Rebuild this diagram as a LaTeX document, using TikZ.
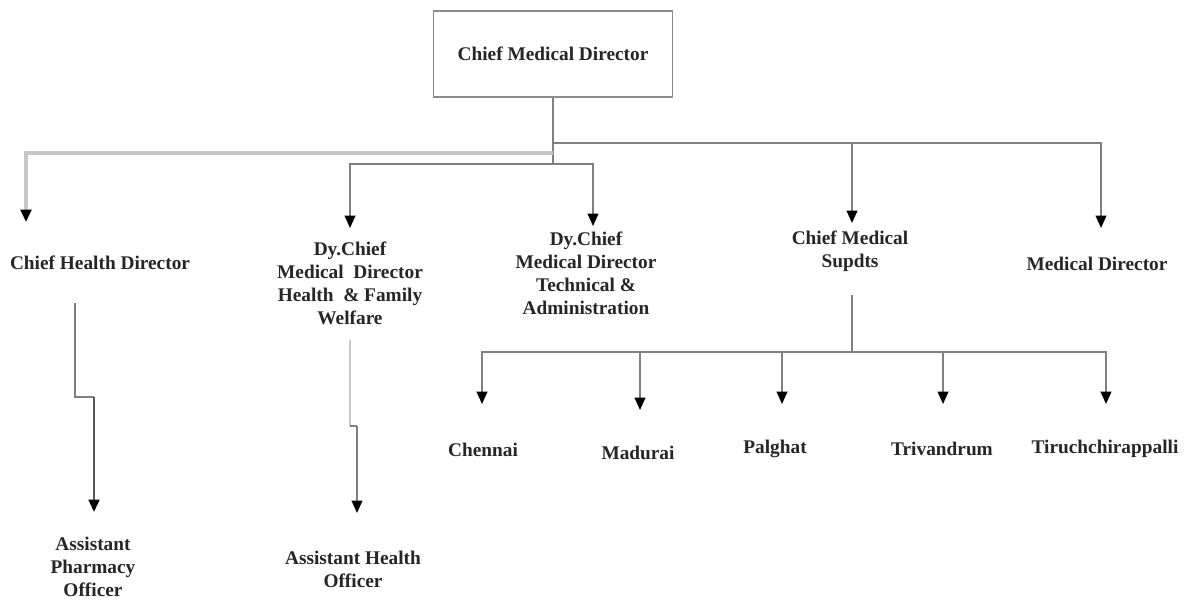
\documentclass[tikz,border=0pt]{standalone}
\usepackage{fontspec}
\setmainfont{Liberation Serif}
\usetikzlibrary{arrows.meta}
\begin{document}
\begin{tikzpicture}[x=0.02cm,y=-0.02cm,
  lbl/.style={font=\fontsize{11}{13.1}\selectfont\bfseries, text=black!85, align=center, inner sep=1pt},
  topbox/.style={draw=black!45, line width=1pt, minimum width=4.78cm, minimum height=1.72cm, inner sep=0pt},
  conn/.style={draw=black!50, line width=1.1pt},
  lightconn/.style={draw=black!22, line width=2.2pt, line join=miter},
  darkconn/.style={draw=black!65, line width=1.5pt},
  tip/.style={-{Triangle[width=6pt,length=7pt,color=black]}}
]
\useasboundingbox (0,0) rectangle (1185,600);
\fill[white] (0,0) rectangle (1185,600);

% nodes
\node[topbox, lbl] (cmd) at (553,54) {Chief Medical Director};
\node[lbl] (chd) at (100,263) {Chief Health Director};
\node[lbl] (hfw) at (350,283) {Dy.Chief\\Medical\ \ Director\\Health\ \ \& Family\\Welfare};
\node[lbl] (ta) at (586,273) {Dy.Chief\\Medical Director\\Technical \&\\Administration};
\node[lbl] (cms) at (850,251) {Chief Medical\\Supdts};
\node[lbl] (md) at (1097,264) {Medical Director};
\node[lbl] (apo) at (93,567) {Assistant\\Pharmacy\\Officer};
\node[lbl] (aho) at (353,569) {Assistant Health\\Officer};
\node[lbl] (che) at (483,450) {Chennai};
\node[lbl] (mad) at (638,453) {Madurai};
\node[lbl] (pal) at (775,449) {Palghat};
\node[lbl] (tri) at (942,449) {Trivandrum};
\node[lbl] (tir) at (1105,449) {Tiruchchirappalli};

% junctions and connector ends
\coordinate (jR) at (553,143);
\coordinate (jL) at (553,153);
\coordinate (j0) at (553,164);
\coordinate (chdIn) at (26,222);
\coordinate (hfwIn) at (350,228);
\coordinate (taIn) at (593,226);
\coordinate (cmsIn) at (852,223);
\coordinate (mdIn) at (1101,228);
\coordinate (chdOut) at (75,303);
\coordinate (chdBend) at (75,397);
\coordinate (apoIn) at (94,512);
\coordinate (hfwOut) at (350,340);
\coordinate (hfwBend) at (350,426);
\coordinate (ahoIn) at (357,513);
\coordinate (cmsOut) at (852,295);
\coordinate (cmsJ) at (852,352);
\coordinate (cheIn) at (482,404);
\coordinate (madIn) at (640,410);
\coordinate (palIn) at (782,404);
\coordinate (triIn) at (943,404);
\coordinate (tirIn) at (1106,404);

% top level connectors
\draw[conn] (cmd.south) -- (j0);
\draw[conn, tip] (jR) -| (cmsIn);
\draw[conn, tip] (jR) -| (mdIn);
\draw[lightconn, tip] (jL) -| (chdIn);
\draw[conn, tip] (j0) -| (hfwIn);
\draw[conn, tip] (j0) -| (taIn);

% assistant officers
\draw[conn] (chdOut) -- (chdBend) -- ++(19,0) coordinate (chdB2);
\draw[darkconn, tip] (chdB2) -- (apoIn);
\draw[lightconn, line width=1.6pt] (hfwOut) -- (hfwBend);
\draw[conn] (hfwBend) -- ++(7,0) coordinate (hfwB2);
\draw[conn, tip] (hfwB2) -- (ahoIn);

% chief medical supdts
\draw[conn] (cmsOut) -- (cmsJ);
\draw[conn] (cheIn |- cmsJ) -- (madIn |- cmsJ);
\draw[darkconn] (madIn |- cmsJ) -- (cmsJ);
\draw[draw=black!80, line width=1.5pt] (cmsJ) -- (triIn |- cmsJ);
\draw[conn] (triIn |- cmsJ) -- (tirIn |- cmsJ);
\draw[conn, tip] (cmsJ) -| (cheIn);
\draw[conn, tip] (cmsJ) -| (madIn);
\draw[conn, tip] (cmsJ) -| (palIn);
\draw[conn, tip] (cmsJ) -| (triIn);
\draw[conn, tip] (cmsJ) -| (tirIn);
\end{tikzpicture}
\end{document}
